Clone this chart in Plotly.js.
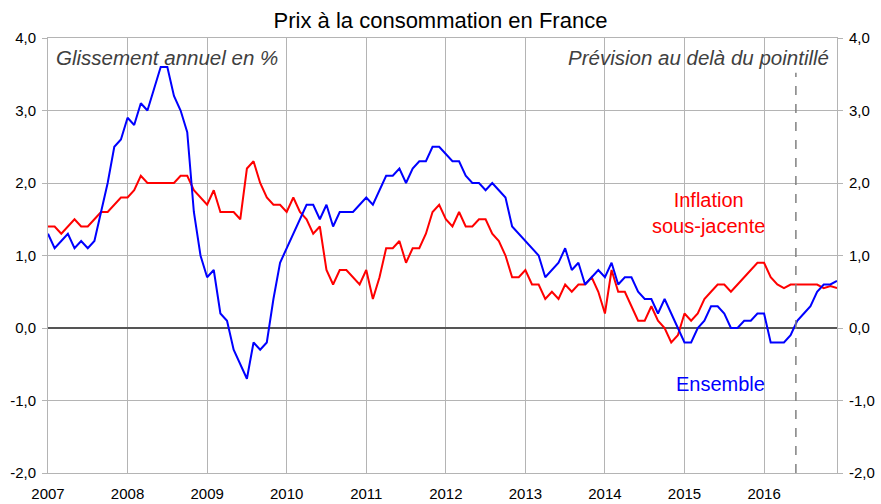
<!DOCTYPE html>
<html>
<head>
<meta charset="utf-8">
<script src="https://cdn.plot.ly/plotly-3.0.1.min.js"></script>
<style>html,body{margin:0;padding:0;background:#fff;}#chart{width:881px;height:504px;}</style>
</head>
<body>
<div id="chart"></div>
<script>
// Monthly data, January 2007 to December 2016 (year-on-year change, %)
const startYear = 2007;
const ensemble = [
  1.3, 1.1, 1.2, 1.3, 1.1, 1.2, 1.1, 1.2, 1.6, 2.0, 2.5, 2.6,
  2.9, 2.8, 3.1, 3.0, 3.3, 3.6, 3.6, 3.2, 3.0, 2.7, 1.6, 1.0,
  0.7, 0.8, 0.2, 0.1, -0.3, -0.5, -0.7, -0.2, -0.3, -0.2, 0.4, 0.9,
  1.1, 1.3, 1.5, 1.7, 1.7, 1.5, 1.7, 1.4, 1.6, 1.6, 1.6, 1.7,
  1.8, 1.7, 1.9, 2.1, 2.1, 2.2, 2.0, 2.2, 2.3, 2.3, 2.5, 2.5,
  2.4, 2.3, 2.3, 2.1, 2.0, 2.0, 1.9, 2.0, 1.9, 1.8, 1.4, 1.3,
  1.2, 1.1, 1.0, 0.7, 0.8, 0.9, 1.1, 0.8, 0.9, 0.6, 0.7, 0.8,
  0.7, 0.9, 0.6, 0.7, 0.7, 0.5, 0.4, 0.4, 0.2, 0.4, 0.2, 0.0,
  -0.2, -0.2, 0.0, 0.1, 0.3, 0.3, 0.2, 0.0, 0.0, 0.1, 0.1, 0.2,
  0.2, -0.2, -0.2, -0.2, -0.1, 0.1, 0.2, 0.3, 0.5, 0.6, 0.6, 0.65
];
const sousJacente = [
  1.4, 1.4, 1.3, 1.4, 1.5, 1.4, 1.4, 1.5, 1.6, 1.6, 1.7, 1.8,
  1.8, 1.9, 2.1, 2.0, 2.0, 2.0, 2.0, 2.0, 2.1, 2.1, 1.9, 1.8,
  1.7, 1.9, 1.6, 1.6, 1.6, 1.5, 2.2, 2.3, 2.0, 1.8, 1.7, 1.7,
  1.6, 1.8, 1.6, 1.5, 1.3, 1.4, 0.8, 0.6, 0.8, 0.8, 0.7, 0.6,
  0.8, 0.4, 0.7, 1.1, 1.1, 1.2, 0.9, 1.1, 1.1, 1.3, 1.6, 1.7,
  1.5, 1.4, 1.6, 1.4, 1.4, 1.5, 1.5, 1.3, 1.2, 1.0, 0.7, 0.7,
  0.8, 0.6, 0.6, 0.4, 0.5, 0.4, 0.6, 0.5, 0.6, 0.6, 0.7, 0.5,
  0.2, 0.8, 0.5, 0.5, 0.3, 0.1, 0.1, 0.3, 0.1, 0.0, -0.2, -0.1,
  0.2, 0.1, 0.2, 0.4, 0.5, 0.6, 0.6, 0.5, 0.6, 0.7, 0.8, 0.9,
  0.9, 0.7, 0.6, 0.55, 0.6, 0.6, 0.6, 0.6, 0.6, 0.55, 0.58, 0.55
];
const yearTicks = [2007, 2008, 2009, 2010, 2011, 2012, 2013, 2014, 2015, 2016];
const yearLabels = ['2007', '2008', '2009', '2010', '2011', '2012', '2013', '2014', '2015', '2016'];
const yTicks = [-2, -1, 0, 1, 2, 3, 4];
const yLabels = ['-2,0', '-1,0', '0,0', '1,0', '2,0', '3,0', '4,0'];
const forecastStart = 2016.4;

const months = ensemble.map((_, i) => startYear + i / 12);

const FONT = 'Liberation Sans, Arial, sans-serif';
const GRID = '#b4b4b4';

const traces = [
  {x: months, y: sousJacente, type: 'scatter', mode: 'lines', name: 'Inflation sous-jacente',
   line: {color: '#ff0000', width: 2}},
  {x: months, y: ensemble, type: 'scatter', mode: 'lines', name: 'Ensemble',
   line: {color: '#0000ff', width: 2}}
];

const yCommon = {
  range: [-2, 4], tickvals: yTicks, ticktext: yLabels,
  tickfont: {family: FONT, size: 15, color: '#000'},
  ticks: 'outside', ticklen: 5, tickcolor: GRID, tickwidth: 1,
  ticklabelstandoff: 3,
  fixedrange: true
};

const layout = {
  width: 881, height: 504,
  margin: {l: 48, r: 44, t: 38, b: 31},
  paper_bgcolor: '#fff', plot_bgcolor: '#fff',
  showlegend: false,
  font: {family: FONT, color: '#000'},
  title: {text: 'Prix à la consommation en France', font: {family: FONT, size: 22, color: '#000'},
          x: 0.5, xanchor: 'center', y: 0.96, yanchor: 'middle'},
  xaxis: {
    range: [startYear, startYear + (ensemble.length - 1) / 12],
    tickvals: yearTicks, ticktext: yearLabels,
    tickfont: {family: FONT, size: 15, color: '#000'},
    ticklabelstandoff: 7,
    showgrid: true, gridcolor: GRID, gridwidth: 1,
    showline: true, linecolor: GRID, linewidth: 1, mirror: true,
    ticks: '', zeroline: false, fixedrange: true
  },
  yaxis: Object.assign({}, yCommon, {
    showgrid: true, gridcolor: GRID, gridwidth: 1,
    zeroline: true, zerolinecolor: '#555555', zerolinewidth: 2,
    showline: true, linecolor: GRID, linewidth: 1, mirror: true
  }),
  yaxis2: Object.assign({}, yCommon, {
    overlaying: 'y', side: 'right', showgrid: false, zeroline: false, showline: false
  }),
  shapes: [
    {type: 'line', xref: 'x', yref: 'paper', x0: forecastStart, x1: forecastStart, y0: 0, y1: 0.92,
     line: {color: '#808080', width: 1.5, dash: 'dash'}}
  ],
  annotations: [
    {text: '<i>Glissement annuel en %</i>', xref: 'paper', yref: 'paper', x: 0.007, y: 0.955,
     xanchor: 'left', yanchor: 'middle', showarrow: false,
     font: {family: FONT, size: 20.5, color: '#404040'}},
    {text: '<i>Prévision au delà du pointillé</i>', xref: 'paper', yref: 'paper', x: 0.993, y: 0.955,
     xanchor: 'right', yanchor: 'middle', showarrow: false,
     font: {family: FONT, size: 20.5, color: '#404040'}},
    {text: 'Inflation<br>sous-jacente', xref: 'x', yref: 'y', x: 2015.3, y: 1.59,
     xanchor: 'center', yanchor: 'middle', showarrow: false, align: 'center',
     font: {family: FONT, size: 20, color: '#ff0000'}},
    {text: 'Ensemble', xref: 'x', yref: 'y', x: 2015.45, y: -0.77,
     xanchor: 'center', yanchor: 'middle', showarrow: false,
     font: {family: FONT, size: 20, color: '#0000ff'}}
  ]
};

// invisible trace to anchor the right-hand axis
traces.push({x: [months[0]], y: [0], yaxis: 'y2', type: 'scatter', mode: 'lines',
             hoverinfo: 'skip', showlegend: false, line: {width: 0}});

Plotly.newPlot('chart', traces, layout, {displayModeBar: false, staticPlot: true});
</script>
</body>
</html>
